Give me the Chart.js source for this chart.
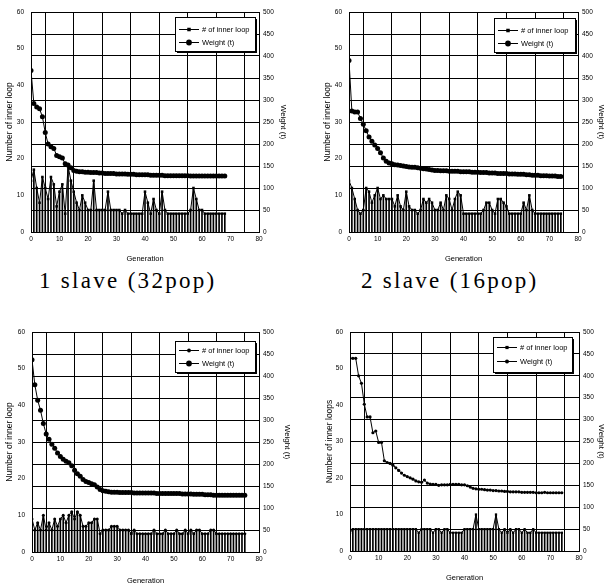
<!DOCTYPE html>
<html>
<head>
<meta charset="utf-8">
<script src="https://cdn.jsdelivr.net/npm/chart.js@4.4.0/dist/chart.umd.min.js"></script>
<style>
  html, body { margin: 0; padding: 0; background: #fff; overflow: hidden; }
  #page { position: relative; width: 606px; height: 586px; }
  #page canvas { position: absolute; }
  .caption {
    position: absolute;
    font-family: "Liberation Serif", "DejaVu Serif", serif;
    font-size: 23px;
    line-height: 23px;
    letter-spacing: 2.3px;
    white-space: nowrap;
    color: #000;
  }
</style>
</head>
<body>
<div id="page">
  <canvas id="chart-1slave" width="300" height="266" style="left:0;top:0"></canvas>
  <canvas id="chart-2slave" width="306" height="266" style="left:300px;top:0"></canvas>
  <canvas id="chart-4slave" width="300" height="286" style="left:0;top:300px"></canvas>
  <canvas id="chart-8slave" width="306" height="286" style="left:300px;top:300px"></canvas>
  <div class="caption" style="left:39px;top:269px">1 slave (32pop)</div>
  <div class="caption" style="left:361px;top:269px">2 slave (16pop)</div>
</div>
<script>
// Axis ranges / tick steps
const genRange = [0, 80];
const loopRange = [0, 60];
const weightRange = [0, 500];

// 1 slave (32pop): generation 0..68
const loops1 = [14, 17, 12, 8, 15, 12, 9, 15, 13, 7, 11, 13, 5, 18, 14, 11, 8, 6, 10, 8,
  6, 6, 14, 6, 6, 6, 6, 11, 6, 6, 6, 6, 5, 6, 5, 5, 5, 5, 5, 5,
  11, 8, 5, 9, 6, 5, 11, 6, 5, 5, 5, 5, 5, 5, 5, 5, 6, 12, 9, 6,
  6, 5, 5, 5, 5, 5, 5, 5, 5];
const weights1 = [367, 292, 284, 280, 262, 226, 200, 194, 190, 174, 171, 168, 155, 152, 146, 140, 138, 137, 137, 136,
  136, 135, 135, 135, 134, 134, 133, 133, 133, 133, 132, 132, 132, 132, 131, 131, 131, 130, 130, 130,
  130, 130, 129, 129, 129, 129, 129, 128, 128, 128, 128, 128, 128, 128, 128, 128, 127, 127, 127, 127,
  127, 127, 127, 127, 127, 127, 127, 127, 127];

// 2 slave (16pop): generation 0..74
const loops2 = [14, 12, 9, 6, 5, 6, 12, 11, 8, 10, 12, 9, 10, 9, 9, 9, 7, 10, 7, 6,
  11, 7, 6, 6, 5, 6, 9, 8, 9, 8, 6, 6, 8, 6, 10, 9, 6, 9, 11, 10,
  5, 5, 5, 5, 5, 5, 5, 6, 8, 8, 6, 5, 9, 9, 8, 7, 5, 5, 5, 5,
  5, 8, 6, 10, 6, 5, 5, 5, 5, 5, 5, 5, 5, 5, 5];
const weights2 = [390, 275, 273, 273, 258, 245, 230, 216, 206, 198, 190, 180, 168, 161, 157, 155, 153, 152, 151, 150,
  149, 148, 147, 147, 146, 145, 144, 143, 142, 141, 140, 140, 139, 139, 139, 138, 138, 138, 138, 137,
  137, 137, 137, 136, 136, 136, 135, 135, 135, 134, 134, 134, 133, 133, 133, 133, 132, 132, 132, 131,
  131, 131, 130, 130, 129, 129, 129, 128, 128, 128, 127, 127, 127, 126, 126];

// lower left panel: generation 0..75
const loops3 = [9, 6, 8, 6, 10, 6, 8, 6, 9, 7, 9, 10, 8, 10, 11, 9, 11, 10, 7, 7,
  8, 8, 9, 9, 5, 6, 6, 6, 7, 7, 7, 6, 6, 6, 6, 5, 6, 5, 5, 5,
  5, 5, 5, 6, 5, 5, 5, 6, 5, 5, 5, 6, 5, 5, 6, 5, 6, 5, 6, 6,
  5, 5, 5, 6, 6, 5, 5, 5, 5, 5, 5, 5, 5, 5, 5, 5];
const weights3 = [437, 380, 345, 322, 292, 268, 256, 245, 236, 225, 217, 211, 206, 203, 196, 186, 178, 172, 165, 160,
  158, 155, 153, 148, 142, 139, 138, 137, 136, 136, 136, 135, 135, 135, 135, 135, 134, 134, 134, 134,
  134, 134, 134, 134, 133, 133, 133, 133, 133, 133, 133, 133, 133, 132, 132, 132, 132, 131, 131, 131,
  131, 130, 130, 130, 129, 129, 129, 129, 129, 129, 129, 129, 129, 129, 129, 129];

// lower right panel: generation 0..74
const loops4 = [5, 6, 6, 6, 6, 6, 6, 6, 6, 6, 6, 6, 6, 6, 6, 6, 6, 6, 6, 6,
  6, 6, 6, 6, 5, 6, 6, 6, 6, 5, 6, 6, 5, 6, 6, 5, 5, 5, 5, 5,
  6, 6, 6, 6, 10, 6, 6, 6, 6, 6, 6, 10, 6, 5, 6, 5, 6, 5, 6, 6,
  5, 6, 5, 5, 6, 5, 5, 5, 5, 5, 5, 5, 5, 5, 5];
const weights4 = [440, 440, 440, 400, 383, 335, 306, 306, 270, 274, 248, 248, 206, 202, 200, 196, 190, 184, 178, 173,
  170, 167, 164, 160, 158, 157, 162, 155, 153, 152, 152, 150, 151, 151, 151, 152, 152, 152, 152, 151,
  151, 149, 146, 143, 142, 141, 141, 140, 139, 139, 138, 138, 137, 137, 136, 136, 135, 135, 135, 135,
  134, 134, 134, 134, 134, 133, 133, 133, 134, 133, 133, 133, 133, 133, 133];

Chart.defaults.font.family = '"Liberation Sans", Arial, sans-serif';
Chart.defaults.color = '#000';

/**
 * Boxed legend drawn inside the plot area (top right corner)
 */
const boxLegend = {
  id: 'boxLegend',
  afterDraw(chart, args, opts) {
    const { ctx, chartArea } = chart;
    const x = chartArea.right - opts.right - opts.width;
    const y = chartArea.top + opts.top;
    ctx.save();
    ctx.fillStyle = '#fff';
    ctx.fillRect(x, y, opts.width, opts.height);
    ctx.strokeStyle = '#000';
    ctx.lineWidth = 1;
    ctx.strokeRect(x + 0.5, y + 0.5, opts.width, opts.height);
    // heavy shadow on right and bottom edges
    ctx.fillStyle = '#000';
    ctx.fillRect(x + 2, y + opts.height, opts.width, 2);
    ctx.fillRect(x + opts.width, y + 2, 2, opts.height);

    ctx.font = '7.5px "Liberation Sans", Arial, sans-serif';
    ctx.textBaseline = 'middle';
    chart.data.datasets.filter(ds => ds.label).forEach((ds, i) => {
      const rowY = Math.round(y + opts.firstRow + i * opts.rowGap) + 0.5;
      ctx.beginPath();
      ctx.moveTo(x + 4, rowY);
      ctx.lineTo(x + 24, rowY);
      ctx.stroke();
      const r = ds.pointRadius + 0.4;
      ctx.beginPath();
      if (ds.pointStyle === 'rect') {
        ctx.rect(x + 14 - r * 0.8, rowY - r * 0.8, r * 1.6, r * 1.6);
      } else {
        ctx.arc(x + 14, rowY, r, 0, Math.PI * 2);
      }
      ctx.fill();
      ctx.fillText(ds.label, x + 27, rowY);
    });
    ctx.restore();
  }
};

/**
 * Build one panel: bars + line for inner loops (left axis), line for weight (right axis)
 */
function buildPanel(id, p) {
  const ctx = document.getElementById(id);
  const W = ctx.width, H = ctx.height;
  const loopPoints = p.loops.map((v, i) => ({ x: i, y: v }));
  const weightPoints = p.weights.map((v, i) => ({ x: i, y: v }));
  const tickFont = { size: 6.5 };

  return new Chart(ctx, {
    type: 'bar',
    data: {
      datasets: [
        {
          type: 'line', label: '# of inner loop', data: loopPoints, yAxisID: 'y',
          borderColor: '#000', borderWidth: 1, tension: 0,
          pointStyle: p.loopMarker, pointRadius: p.loopRadius,
          pointBackgroundColor: '#000', pointBorderWidth: 0, order: 2
        },
        {
          type: 'bar', data: loopPoints, yAxisID: 'y',
          backgroundColor: '#000', barThickness: 1, order: 3
        },
        {
          type: 'line', label: 'Weight (t)', data: weightPoints, yAxisID: 'y1',
          borderColor: '#000', borderWidth: 1, tension: 0,
          pointStyle: 'circle', pointRadius: p.weightRadius,
          pointBackgroundColor: '#000', pointBorderWidth: 0, order: 1
        }
      ]
    },
    options: {
      responsive: false,
      animation: false,
      devicePixelRatio: 1,
      layout: { padding: { top: p.area.top, left: 0, right: 0, bottom: 0 } },
      plugins: {
        legend: { display: false },
        tooltip: { enabled: false },
        boxLegend: p.legend
      },
      scales: {
        x: {
          type: 'linear', min: genRange[0], max: genRange[1], offset: false,
          ticks: { stepSize: 10, padding: 3, font: tickFont, maxRotation: 0 },
          grid: { color: '#000', lineWidth: 1, drawTicks: false },
          border: { color: '#000', width: 1 },
          title: { display: true, text: 'Generation', font: { size: 7.5 }, padding: { top: 0, bottom: p.genPad } },
          afterFit: s => { s.height = H - p.area.bottom; }
        },
        y: {
          position: 'left', min: loopRange[0], max: loopRange[1],
          ticks: { stepSize: 10, padding: 7, font: tickFont },
          grid: { display: false, drawTicks: false },
          border: { color: '#000', width: 1 },
          title: { display: true, text: p.loopTitle, font: { size: 8.5 }, padding: { top: p.leftPad, bottom: 0 } },
          afterFit: s => { s.width = p.area.left; }
        },
        y1: {
          position: 'right', min: weightRange[0], max: weightRange[1],
          ticks: { stepSize: 50, padding: 4, font: tickFont },
          grid: { color: '#000', lineWidth: 1, drawTicks: false },
          border: { color: '#000', width: 1 },
          title: { display: true, text: 'Weight (t)', font: { size: 8 }, padding: { top: p.rightPad, bottom: 0 } },
          afterFit: s => { s.width = W - p.area.right; }
        }
      }
    },
    plugins: [boxLegend]
  });
}

buildPanel('chart-1slave', {
  loops: loops1, weights: weights1,
  area: { left: 31, right: 259, top: 12, bottom: 232 },
  loopTitle: 'Number of inner loop', loopMarker: 'rect', loopRadius: 1.8, weightRadius: 2.5,
  leftPad: 5, rightPad: 12, genPad: 3,
  legend: { right: 4, top: 5, width: 80, height: 34, firstRow: 12, rowGap: 12.5 }
});

buildPanel('chart-2slave', {
  loops: loops2, weights: weights2,
  area: { left: 49, right: 278, top: 12, bottom: 232 },
  loopTitle: 'Number of inner loop', loopMarker: 'rect', loopRadius: 1.8, weightRadius: 2.5,
  leftPad: 23, rightPad: 0, genPad: 3,
  legend: { right: 3, top: 6, width: 81, height: 34, firstRow: 12, rowGap: 12.5 }
});

buildPanel('chart-4slave', {
  loops: loops3, weights: weights3,
  area: { left: 32, right: 259, top: 32, bottom: 252 },
  loopTitle: 'Number of inner loop', loopMarker: 'circle', loopRadius: 1.5, weightRadius: 2.5,
  leftPad: 5, rightPad: 8, genPad: 1,
  legend: { right: 4, top: 9, width: 80, height: 31, firstRow: 9, rowGap: 13 }
});

buildPanel('chart-8slave', {
  loops: loops4, weights: weights4,
  area: { left: 50, right: 279, top: 32, bottom: 251 },
  loopTitle: 'Number of inner loops', loopMarker: 'rect', loopRadius: 1.6, weightRadius: 1.6,
  leftPad: 25, rightPad: 0, genPad: 4,
  legend: { right: 7, top: 5, width: 79, height: 35, firstRow: 10, rowGap: 14 }
});
</script>
</body>
</html>
